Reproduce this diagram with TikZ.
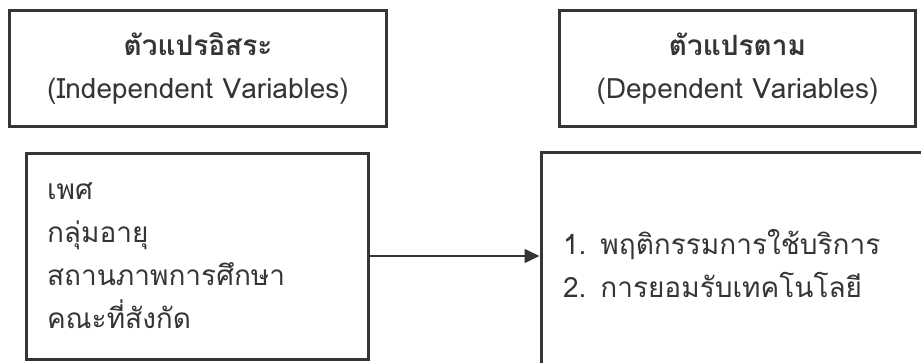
\documentclass[tikz,border=0pt]{standalone}
\usepackage{fontspec}
\setmainfont[Script=Thai]{Loma}
\usetikzlibrary{positioning, arrows.meta}
\definecolor{inkgray}{HTML}{353535}
\tikzstyle{headbox} = [rectangle, draw=inkgray, line width=3pt, minimum height=116pt, align=center, text=inkgray, font=\fontsize{28}{43}\selectfont]
\tikzstyle{listbox} = [rectangle, draw=inkgray, line width=3pt, align=left, text=inkgray, font=\fontsize{28}{43}\selectfont]
\tikzstyle{arrow} = [line width=1.5pt, draw=inkgray, -{Triangle[length=15pt,width=14pt]}]

\begin{document}
\begin{tikzpicture}[x=1pt, y=-1pt]
\useasboundingbox (0,0) rectangle (921,362);

\node (indep) [headbox, minimum width=377pt] at (198,68.5) {\textbf{ตัวแปรอิสระ}\\(Independent Variables)};
\node (dep) [headbox, minimum width=356pt] at (737.5,68.5) {\textbf{ตัวแปรตาม}\\(Dependent Variables)};
\node (vars) [listbox, text width=300pt, inner xsep=21pt, minimum height=206pt] at (197,256) {เพศ\\กลุ่มอายุ\\สถานภาพการศึกษา\\คณะที่สังกัด};
\node (outs) [listbox, text width=356pt, inner xsep=22pt, minimum height=222pt] at (741,263) {1. พฤติกรรมการใช้บริการ\\2. การยอมรับเทคโนโลยี};

\draw [arrow] (vars.east) -- (vars.east -| outs.west);

\end{tikzpicture}
\end{document}
